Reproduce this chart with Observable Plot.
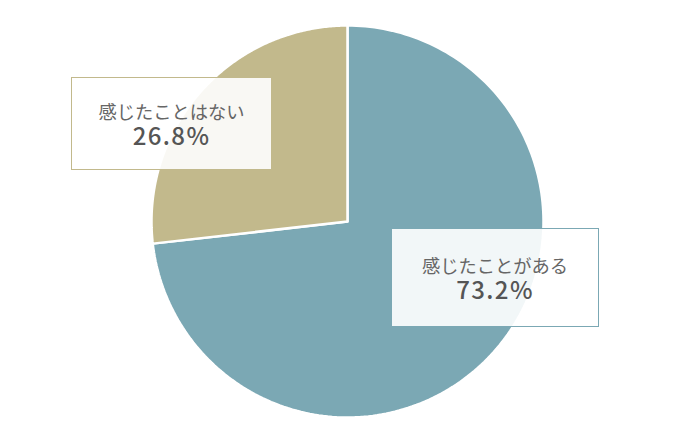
<!DOCTYPE html>
<html><head><meta charset="utf-8">
<script src="https://cdn.jsdelivr.net/npm/d3@7"></script>
<script src="https://cdn.jsdelivr.net/npm/@observablehq/plot@0.6"></script>
<style>
body{margin:0;background:#fff;font-family:"Noto Sans CJK JP","Noto Sans",sans-serif;}
#wrap{position:relative;width:700px;height:442px;}
.lab{position:absolute;box-sizing:border-box;background:rgba(255,255,255,0.9);display:flex;align-items:center;justify-content:center;}
.lab .t{text-align:center;font-size:18.3px;line-height:23px;color:#666;margin-top:2px;}
.lab .v{font-size:24px;font-weight:500;color:#555;letter-spacing:1.4px;line-height:24px;}
</style></head>
<body><div id="wrap"></div>
<script>
const categories = ["感じたことがある", "感じたことはない"];
const values = [73.2, 26.8];
const colors = ["#7BA8B4", "#C2B98C"];

const total = d3.sum(values);
const pts = [];
let acc = 0;
categories.forEach((c, i) => {
  const a0 = acc / total * 2 * Math.PI;
  acc += values[i];
  const a1 = acc / total * 2 * Math.PI;
  pts.push({cat: c, x: 0, y: 0});
  const n = 200;
  for (let k = 0; k <= n; k++) {
    const a = a0 + (a1 - a0) * k / n;
    pts.push({cat: c, x: Math.sin(a), y: Math.cos(a)});
  }
  pts.push({cat: c, x: 0, y: 0});
});

const W = 700, H = 442, cx = 347, cy = 221, R = 196;
const chart = Plot.plot({
  width: W, height: H,
  margin: 0,
  x: {domain: [-cx / R, (W - cx) / R], axis: null},
  y: {domain: [-(H - cy) / R, cy / R], axis: null},
  color: {domain: categories, range: colors},
  marks: [
    Plot.line(pts, {x: "x", y: "y", z: "cat", fill: "cat", stroke: "white", strokeWidth: 2.5, strokeLinejoin: "miter", curve: "linear"})
  ]
});
const wrap = document.getElementById("wrap");
wrap.appendChild(chart);

const boxes = [
  {left: 391, top: 228, w: 208, h: 99},
  {left: 71, top: 77, w: 201, h: 93}
];
categories.forEach((c, i) => {
  const d = document.createElement("div");
  d.className = "lab";
  const b = boxes[i];
  Object.assign(d.style, {left: b.left + "px", top: b.top + "px", width: b.w + "px", height: b.h + "px", border: "1px solid " + colors[i]});
  const t = document.createElement("div"); t.className = "t";
  t.appendChild(document.createTextNode(c));
  t.appendChild(document.createElement("br"));
  const v = document.createElement("span"); v.className = "v"; v.textContent = values[i].toFixed(1) + "%";
  t.appendChild(v);
  d.appendChild(t);
  wrap.appendChild(d);
});
</script></body></html>
